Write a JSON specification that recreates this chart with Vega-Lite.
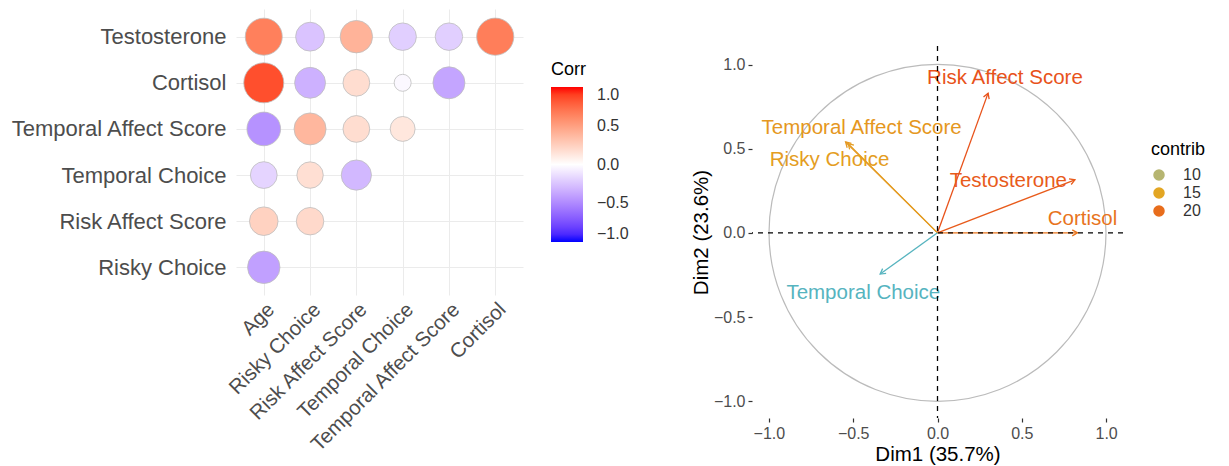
{
  "$schema": "https://vega.github.io/schema/vega-lite/v6.json",
  "background": "white",
  "padding": {"left": 9, "top": 9, "right": 5, "bottom": 0},
  "config": {
    "view": {"stroke": null},
    "font": "Liberation Sans",
    "axis": {"labelFont": "Liberation Sans", "titleFont": "Liberation Sans"},
    "legend": {"labelFont": "Liberation Sans", "titleFont": "Liberation Sans"}
  },
  "datasets": {
    "corr": [
      {"row": "Testosterone", "col": "Age", "corr": 0.65},
      {"row": "Testosterone", "col": "Risky Choice", "corr": -0.25},
      {"row": "Testosterone", "col": "Risk Affect Score", "corr": 0.4},
      {"row": "Testosterone", "col": "Temporal Choice", "corr": -0.2},
      {"row": "Testosterone", "col": "Temporal Affect Score", "corr": -0.2},
      {"row": "Testosterone", "col": "Cortisol", "corr": 0.66},
      {"row": "Cortisol", "col": "Age", "corr": 0.85},
      {"row": "Cortisol", "col": "Risky Choice", "corr": -0.33},
      {"row": "Cortisol", "col": "Risk Affect Score", "corr": 0.18},
      {"row": "Cortisol", "col": "Temporal Choice", "corr": -0.03},
      {"row": "Cortisol", "col": "Temporal Affect Score", "corr": -0.38},
      {"row": "Temporal Affect Score", "col": "Age", "corr": -0.46},
      {"row": "Temporal Affect Score", "col": "Risky Choice", "corr": 0.38},
      {"row": "Temporal Affect Score", "col": "Risk Affect Score", "corr": 0.18},
      {"row": "Temporal Affect Score", "col": "Temporal Choice", "corr": 0.13},
      {"row": "Temporal Choice", "col": "Age", "corr": -0.18},
      {"row": "Temporal Choice", "col": "Risky Choice", "corr": 0.17},
      {"row": "Temporal Choice", "col": "Risk Affect Score", "corr": -0.3},
      {"row": "Risk Affect Score", "col": "Age", "corr": 0.24},
      {"row": "Risk Affect Score", "col": "Risky Choice", "corr": 0.2},
      {"row": "Risky Choice", "col": "Age", "corr": -0.4}
    ],
    "pca": [
      {"var": "Risk Affect Score", "x": 0.3, "y": 0.83, "contrib": 21.9, "lx": 0.4, "ly": 0.92},
      {"var": "Temporal Affect Score", "x": -0.545, "y": 0.54, "contrib": 16.4, "lx": -0.45, "ly": 0.625},
      {"var": "Risky Choice", "x": -0.53, "y": 0.53, "contrib": 15.8, "lx": -0.64, "ly": 0.43},
      {"var": "Testosterone", "x": 0.815, "y": 0.315, "contrib": 21.3, "lx": 0.42, "ly": 0.31},
      {"var": "Cortisol", "x": 0.83, "y": 0.0, "contrib": 19.4, "lx": 0.86, "ly": 0.083},
      {"var": "Temporal Choice", "x": -0.34, "y": -0.245, "contrib": 5.2, "lx": -0.44, "ly": -0.357}
    ]
  },
  "hconcat": [
    {
      "width": 287,
      "height": 286,
      "data": {"name": "corr"},
      "mark": {"type": "point", "shape": "circle", "filled": true, "opacity": 1, "stroke": "#BEBEBE", "strokeWidth": 0.8},
      "encoding": {
        "x": {
          "field": "col", "type": "nominal",
          "sort": ["Age", "Risky Choice", "Risk Affect Score", "Temporal Choice", "Temporal Affect Score", "Cortisol"],
          "scale": {"type": "point", "padding": 0.6},
          "axis": {"title": null, "labelAngle": -45, "labelAlign": "right", "labelBaseline": "top", "labelFontSize": 20.5, "labelColor": "#4d4d4d", "labelLimit": 400, "ticks": false, "domain": false, "grid": true, "gridColor": "#ebebeb", "labelPadding": 4}
        },
        "y": {
          "field": "row", "type": "nominal",
          "sort": ["Testosterone", "Cortisol", "Temporal Affect Score", "Temporal Choice", "Risk Affect Score", "Risky Choice"],
          "scale": {"type": "point", "padding": 0.6},
          "axis": {"title": null, "labelFontSize": 22, "labelColor": "#4d4d4d", "labelLimit": 400, "ticks": false, "domain": false, "grid": true, "gridColor": "#ebebeb", "labelPadding": 10}
        },
        "fill": {
          "field": "corr", "type": "quantitative",
          "scale": {"domain": [-1, 0, 1], "range": ["blue", "white", "red"], "interpolate": "lab"},
          "legend": {"type": "gradient", "title": "Corr", "orient": "none", "legendX": 315, "legendY": 52, "values": [-1, -0.5, 0, 0.5, 1], "format": ".1f", "gradientLength": 155, "gradientThickness": 32, "titleFontSize": 18, "titleFontWeight": "normal", "titleColor": "black", "titlePadding": 8, "labelFontSize": 16, "labelColor": "#333333", "labelOffset": 14, "gradientStrokeWidth": 0}
        },
        "size": {
          "field": "corr", "type": "quantitative",
          "scale": {
            "domain": [-0.85, -0.65, -0.5, -0.4, -0.3, -0.2, -0.1, -0.03, 0.03, 0.1, 0.2, 0.3, 0.4, 0.5, 0.65, 0.85],
            "range": [1600, 1369, 1184, 1053, 912, 755, 563, 289, 289, 563, 755, 912, 1053, 1184, 1369, 1600]
          },
          "legend": null
        }
      }
    },
    {
      "spacing": 0,
      "resolve": {"legend": {"stroke": "independent", "fill": "independent", "color": "independent"}, "scale": {"stroke": "independent", "fill": "independent", "color": "independent"}},
      "vconcat": [
        {
          "width": 10,
          "height": 36,
          "data": {"values": []},
          "mark": {"type": "point", "opacity": 0},
          "encoding": {}
        },
        {
          "width": 371,
          "height": 372,
          "data": {"name": "pca"},
          "encoding": {
            "x": {
              "type": "quantitative",
              "scale": {"domain": [-1.1, 1.1], "nice": false, "zero": false},
              "axis": {
                "title": "Dim1 (35.7%)",
                "values": [-1, -0.75, -0.5, -0.25, 0, 0.25, 0.5, 0.75, 1],
                "labelExpr": "abs(datum.value*2 - round(datum.value*2)) < 0.01 ? format(datum.value, '.1f') : ''",
                "gridColor": {"condition": {"test": "abs(datum.value*2 - round(datum.value*2)) > 0.01", "value": "#f3f3f3"}, "value": "#e8e8e8"},
                "tickColor": {"condition": {"test": "abs(datum.value*2 - round(datum.value*2)) > 0.01", "value": "transparent"}, "value": "#333333"},
                "domain": false, "tickSize": 4, "tickWidth": 1.2,
                "labelFontSize": 16, "labelColor": "#4d4d4d", "labelPadding": 3,
                "titleFontSize": 20.5, "titleFontWeight": "normal", "titleColor": "black", "titlePadding": 3
              }
            },
            "y": {
              "type": "quantitative",
              "scale": {"domain": [-1.1, 1.11], "nice": false, "zero": false},
              "axis": {
                "title": "Dim2 (23.6%)",
                "values": [-1, -0.75, -0.5, -0.25, 0, 0.25, 0.5, 0.75, 1],
                "labelExpr": "abs(datum.value*2 - round(datum.value*2)) < 0.01 ? format(datum.value, '.1f') : ''",
                "gridColor": {"condition": {"test": "abs(datum.value*2 - round(datum.value*2)) > 0.01", "value": "#f3f3f3"}, "value": "#e8e8e8"},
                "tickColor": {"condition": {"test": "abs(datum.value*2 - round(datum.value*2)) > 0.01", "value": "transparent"}, "value": "#333333"},
                "domain": false, "tickSize": 4, "tickWidth": 1.2,
                "labelFontSize": 16, "labelColor": "#4d4d4d", "labelPadding": 3,
                "titleFontSize": 20.5, "titleFontWeight": "normal", "titleColor": "black", "titlePadding": 2
              }
            }
          },
          "layer": [
            {
              "data": {"values": [{}]},
              "mark": {"type": "point", "shape": "circle", "filled": false, "size": 113569, "stroke": "#BBBBBB", "strokeWidth": 1.2, "opacity": 1},
              "encoding": {"x": {"datum": 0, "type": "quantitative"}, "y": {"datum": 0, "type": "quantitative"}}
            },
            {
              "mark": {"type": "point", "shape": "circle", "filled": true, "opacity": 1, "size": 0, "strokeWidth": 0},
              "encoding": {
                "x": {"field": "x", "type": "quantitative"},
                "y": {"field": "y", "type": "quantitative"},
                "fill": {
                  "field": "contrib", "type": "quantitative",
                  "scale": {"domain": [5.2, 13.55, 21.9], "range": ["#56B4BF", "#E0B526", "#E8521A"], "interpolate": "lab"},
                  "legend": {"type": "gradient", "title": "contrib", "orient": "none", "legendX": 399, "legendY": 95, "values": [10, 15, 20], "gradientLength": 157, "gradientThickness": 32, "titleFontSize": 18, "titleFontWeight": "normal", "titleColor": "black", "titlePadding": 8, "labelFontSize": 16, "labelColor": "#333333", "labelOffset": 16, "gradientStrokeWidth": 0}
                }
              }
            },
            {
              "mark": {"type": "rule", "strokeWidth": 1.3},
              "encoding": {
                "x": {"field": "x", "type": "quantitative"},
                "y": {"field": "y", "type": "quantitative"},
                "x2": {"datum": 0},
                "y2": {"datum": 0},
                "stroke": {
                  "field": "contrib", "type": "quantitative",
                  "scale": {"domain": [5.2, 13.55, 21.9], "range": ["#56B4BF", "#E0B526", "#E8521A"], "interpolate": "lab"},
                  "legend": null
                }
              }
            },
            {
              "transform": [{"calculate": "atan2(datum.x, datum.y) * 180 / PI", "as": "ang"}],
              "mark": {"type": "point", "shape": "M-0.5,0.866L0,0L0.5,0.866", "filled": false, "size": 144, "strokeWidth": 1.3, "opacity": 1},
              "encoding": {
                "x": {"field": "x", "type": "quantitative"},
                "y": {"field": "y", "type": "quantitative"},
                "angle": {"field": "ang", "type": "quantitative", "scale": null},
                "stroke": {"field": "contrib", "type": "quantitative", "legend": null}
              }
            },
            {
              "mark": {"type": "text", "fontSize": 20.5, "font": "Liberation Sans", "align": "center", "baseline": "middle"},
              "encoding": {
                "x": {"field": "lx", "type": "quantitative"},
                "y": {"field": "ly", "type": "quantitative"},
                "text": {"field": "var"},
                "color": {
                  "field": "contrib", "type": "quantitative",
                  "scale": {"domain": [5.2, 13.55, 21.9], "range": ["#56B4BF", "#E0B526", "#E8521A"], "interpolate": "lab"},
                  "legend": null
                }
              }
            },
            {
              "data": {"values": [{}]},
              "mark": {"type": "rule", "color": "black", "strokeWidth": 1.3, "strokeDash": [5, 5]},
              "encoding": {"x": {"datum": 0, "type": "quantitative"}}
            },
            {
              "data": {"values": [{}]},
              "mark": {"type": "rule", "color": "black", "strokeWidth": 1.3, "strokeDash": [5, 5]},
              "encoding": {"y": {"datum": 0, "type": "quantitative"}}
            }
          ]
        }
      ]
    }
  ],
  "spacing": 62,
  "resolve": {"scale": {"stroke": "independent", "fill": "independent", "size": "independent", "color": "independent"}, "legend": {"stroke": "independent", "fill": "independent", "color": "independent"}}
}
